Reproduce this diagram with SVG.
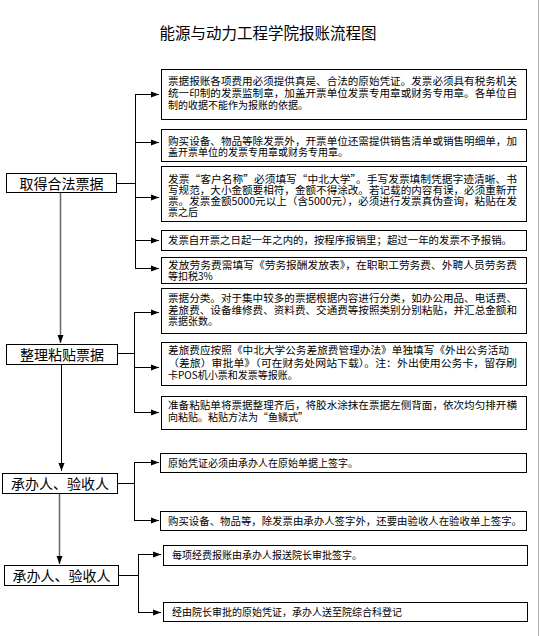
<svg xmlns="http://www.w3.org/2000/svg" width="541" height="636" viewBox="0 0 541 636">
<defs>
<style>
.box{fill:#fff;stroke:#000;stroke-width:1}
.bt{font-family:"Noto Sans CJK SC","Liberation Sans",sans-serif;font-size:10px;fill:#000}
.nt{font-family:"Noto Sans CJK SC","Liberation Sans",sans-serif;font-size:14px;fill:#000;text-anchor:middle}
.title{font-family:"Noto Sans CJK SC","Liberation Sans",sans-serif;font-size:15.5px;fill:#000;text-anchor:middle}
.ln{fill:none;stroke:#000;stroke-width:1}
.gl{fill:none;stroke:#666;stroke-width:1.5}
</style>
<marker id="ah" markerUnits="userSpaceOnUse" markerWidth="8" markerHeight="8" viewBox="0 0 8 8" refX="8" refY="4" orient="auto">
<path d="M0,1 L8,4 L0,7 Z" fill="#000"/>
</marker>
</defs>
<rect width="541" height="636" fill="#fff"/>
<line x1="538.5" y1="0" x2="538.5" y2="636" stroke="#b0b0b0" stroke-width="1"/>
<text class="title" x="268" y="39">能源与动力工程学院报账流程图</text>

<g id="connectors">
<path class="ln" d="M116,183.5 H135.5 M135.5,94 V269"/>
<path class="ln" marker-end="url(#ah)" d="M135.5,94.5 H159"/>
<path class="ln" marker-end="url(#ah)" d="M135.5,142.5 H159"/>
<path class="ln" marker-end="url(#ah)" d="M135.5,197.5 H159"/>
<path class="ln" marker-end="url(#ah)" d="M135.5,240.5 H159"/>
<path class="ln" marker-end="url(#ah)" d="M135.5,268.5 H159"/>
<path class="gl" marker-end="url(#ah)" d="M60.5,193 V343"/>
<path class="ln" d="M117,353.5 H134.5 M134.5,312 V413"/>
<path class="ln" marker-end="url(#ah)" d="M134.5,312.5 H159"/>
<path class="ln" marker-end="url(#ah)" d="M134.5,367.5 H159"/>
<path class="ln" marker-end="url(#ah)" d="M134.5,412.5 H159"/>
<path class="ln" marker-end="url(#ah)" d="M61.5,364 V471"/>
<path class="ln" d="M117,483.5 H134.5 M134.5,462 V521"/>
<path class="ln" marker-end="url(#ah)" d="M134.5,462.5 H159"/>
<path class="ln" marker-end="url(#ah)" d="M134.5,520.5 H159"/>
<path class="gl" marker-end="url(#ah)" d="M59.5,494 V564"/>
<path class="ln" d="M118,575.5 H138.5 M138.5,554 V613"/>
<path class="ln" marker-end="url(#ah)" d="M138.5,554.5 H161"/>
<path class="ln" marker-end="url(#ah)" d="M138.5,612.5 H161"/>
</g>

<g id="node-qude">
<rect class="box" x="6.5" y="173.5" width="110" height="19"/>
<text class="nt" x="61.5" y="188.5">取得合法票据</text>
</g>
<g id="node-zhengli">
<rect class="box" x="6.5" y="344.5" width="111" height="20"/>
<text class="nt" x="62" y="359.5">整理粘贴票据</text>
</g>
<g id="node-chengban1">
<rect class="box" x="2.5" y="473.5" width="115" height="20"/>
<text class="nt" x="60" y="488.5">承办人、验收人</text>
</g>
<g id="node-chengban2">
<rect class="box" x="4.5" y="565.5" width="114" height="20"/>
<text class="nt" x="61.5" y="580.5">承办人、验收人</text>
</g>

<g id="box1">
<rect class="box" x="161.5" y="69.5" width="365" height="50"/>
<text class="bt" x="168" y="85" textLength="349" lengthAdjust="spacingAndGlyphs">票据报账各项费用必须提供真是、合法的原始凭证。发票必须具有税务机关</text>
<text class="bt" x="168" y="97" textLength="349" lengthAdjust="spacingAndGlyphs">统一印制的发票监制章，加盖开票单位发票专用章或财务专用章。各单位自</text>
<text class="bt" x="168" y="109">制的收据不能作为报账的依据。</text>
</g>
<g id="box2">
<rect class="box" x="161.5" y="129.5" width="365" height="32"/>
<text class="bt" x="168" y="144.5" textLength="349" lengthAdjust="spacingAndGlyphs">购买设备、物品等除发票外，开票单位还需提供销售清单或销售明细单，加</text>
<text class="bt" x="168" y="156">盖开票单位的发票专用章或财务专用章。</text>
</g>
<g id="box3">
<rect class="box" x="161.5" y="166.5" width="365" height="55"/>
<text class="bt" x="168" y="183" textLength="349" lengthAdjust="spacingAndGlyphs">发票“客户名称”必须填写“中北大学”。手写发票填制凭据字迹清晰、书</text>
<text class="bt" x="168" y="194" textLength="349" lengthAdjust="spacingAndGlyphs">写规范，大小金额要相符，金额不得涂改。若记载的内容有误，必须重新开</text>
<text class="bt" x="168" y="205" textLength="349" lengthAdjust="spacingAndGlyphs">票。发票金额5000元以上（含5000元），必须进行发票真伪查询，粘贴在发</text>
<text class="bt" x="168" y="216">票之后</text>
</g>
<g id="box4">
<rect class="box" x="161.5" y="230.5" width="365" height="20"/>
<text class="bt" x="168" y="244" textLength="344" lengthAdjust="spacingAndGlyphs">发票自开票之日起一年之内的，按程序报销里；超过一年的发票不予报销。</text>
</g>
<g id="box5">
<rect class="box" x="161.5" y="257.5" width="365" height="26"/>
<text class="bt" x="168" y="269" textLength="349" lengthAdjust="spacingAndGlyphs">发放劳务费需填写《劳务报酬发放表》，在职职工劳务费、外聘人员劳务费</text>
<text class="bt" x="168" y="280">等扣税3%</text>
</g>
<g id="box6">
<rect class="box" x="161.5" y="288.5" width="365" height="45"/>
<text class="bt" x="168" y="302" textLength="349" lengthAdjust="spacingAndGlyphs">票据分类。对于集中较多的票据根据内容进行分类，如办公用品、电话费、</text>
<text class="bt" x="168" y="314" textLength="349" lengthAdjust="spacingAndGlyphs">差旅费、设备维修费、资料费、交通费等按照类别分别粘贴，并汇总金额和</text>
<text class="bt" x="168" y="325">票据张数。</text>
</g>
<g id="box7">
<rect class="box" x="161.5" y="342.5" width="365" height="43"/>
<text class="bt" x="168" y="354" textLength="341" lengthAdjust="spacingAndGlyphs">差旅费应按照《中北大学公务差旅费管理办法》单独填写《外出公务活动</text>
<text class="bt" x="168" y="367" textLength="349" lengthAdjust="spacingAndGlyphs">（差旅）审批单》（可在财务处网站下载）。注：外出使用公务卡，留存刷</text>
<text class="bt" x="168" y="379">卡POS机小票和发票等报账。</text>
</g>
<g id="box8">
<rect class="box" x="161.5" y="396.5" width="365" height="33"/>
<text class="bt" x="168" y="409" textLength="349" lengthAdjust="spacingAndGlyphs">准备粘贴单将票据整理齐后，将胶水涂抹在票据左侧背面，依次均匀排开横</text>
<text class="bt" x="168" y="421">向粘贴。粘贴方法为“鱼鳞式”</text>
</g>
<g id="box9">
<rect class="box" x="160.5" y="453.5" width="366" height="19"/>
<text class="bt" x="168" y="466.5">原始凭证必须由承办人在原始单据上签字。</text>
</g>
<g id="box10">
<rect class="box" x="160.5" y="511.5" width="366" height="19"/>
<text class="bt" x="168" y="525" textLength="354" lengthAdjust="spacingAndGlyphs">购买设备、物品等，除发票由承办人签字外，还要由验收人在验收单上签字。</text>
</g>
<g id="box11">
<rect class="box" x="163.5" y="545.5" width="364" height="20"/>
<text class="bt" x="172" y="559">每项经费报账由承办人报送院长审批签字。</text>
</g>
<g id="box12">
<rect class="box" x="163.5" y="602.5" width="364" height="19"/>
<text class="bt" x="172" y="616">经由院长审批的原始凭证，承办人送至院综合科登记</text>
</g>
</svg>
